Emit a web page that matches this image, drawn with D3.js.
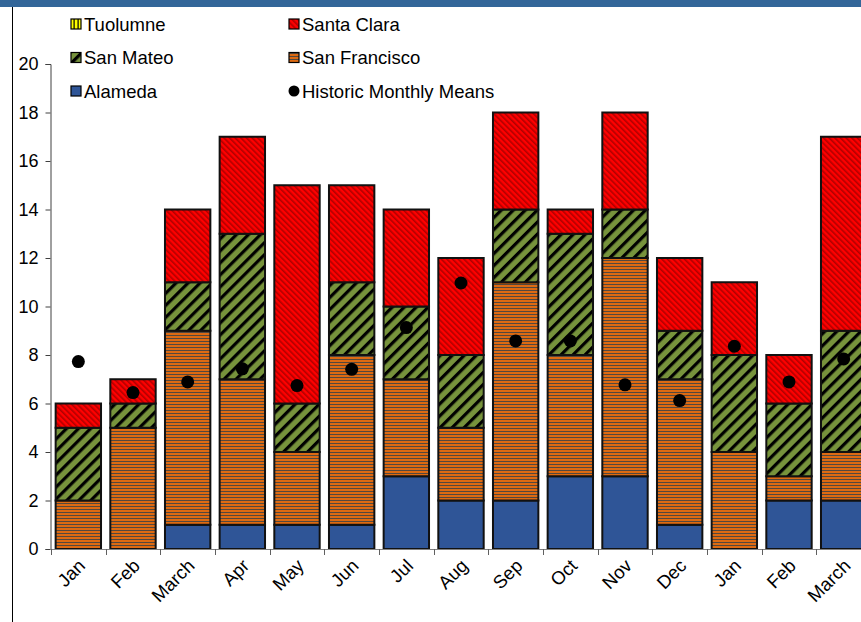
<!DOCTYPE html>
<html><head><meta charset="utf-8">
<script src="https://cdn.jsdelivr.net/npm/d3@7"></script>
<style>html,body{margin:0;padding:0;background:#fff;overflow:hidden}</style>
</head><body>
<svg id="c" width="861" height="622"></svg>
<script>
const categories = ["Jan","Feb","March","Apr","May","Jun","Jul","Aug","Sep","Oct","Nov","Dec","Jan","Feb","March"];
const alameda      = [0,0,1,1,1,1,3,2,2,3,3,1,0,2,2];
const sanFrancisco = [2,5,8,6,3,7,4,3,9,5,9,6,4,1,2];
const sanMateo     = [3,1,2,6,2,3,3,3,3,5,2,2,4,3,5];
const santaClara   = [1,1,3,4,9,4,4,4,4,1,4,3,3,2,8];
const tuolumne     = [0,0,0,0,0,0,0,0,0,0,0,0,0,0,0];
const historicMeans = [7.73,6.45,6.89,7.43,6.74,7.41,9.13,10.97,8.58,8.58,6.77,6.12,8.36,6.89,7.84];
const yTicks = [0,2,4,6,8,10,12,14,16,18,20];

const seriesNames = ["Alameda","San Francisco","San Mateo","Santa Clara","Tuolumne"];
const seriesData = [alameda, sanFrancisco, sanMateo, santaClara, tuolumne];
const fills = ["#2F5597","url(#pSF)","url(#pSM)","url(#pSC)","url(#pTU)"];

const svg = d3.select("#c");
const font = "'Liberation Sans', Arial, sans-serif";

// patterns
const defs = svg.append("defs");
let p = defs.append("pattern").attr("id","pSC").attr("patternUnits","userSpaceOnUse")
  .attr("width",4).attr("height",4).attr("patternTransform","rotate(-45)");
p.append("rect").attr("width",4).attr("height",4).attr("fill","#FF0000");
p.append("rect").attr("width",1.6).attr("height",4).attr("fill","#B00000");

p = defs.append("pattern").attr("id","pSM").attr("patternUnits","userSpaceOnUse")
  .attr("width",8.5).attr("height",8.5).attr("patternTransform","rotate(45)");
p.append("rect").attr("width",8.5).attr("height",8.5).attr("fill","#77933C");
p.append("rect").attr("width",3.2).attr("height",8.5).attr("fill","#000");

p = defs.append("pattern").attr("id","pSF").attr("patternUnits","userSpaceOnUse")
  .attr("width",4).attr("height",3);
p.append("rect").attr("width",4).attr("height",3).attr("fill","#DD6A12");
p.append("rect").attr("y",2).attr("width",4).attr("height",1.1).attr("fill","#54483E");

p = defs.append("pattern").attr("id","pTU").attr("patternUnits","userSpaceOnUse")
  .attr("width",4).attr("height",4);
p.append("rect").attr("width",4).attr("height",4).attr("fill","#FFFF00");
p.append("rect").attr("x",1.5).attr("width",1.2).attr("height",4).attr("fill","#000");

// frame
svg.append("rect").attr("x",0).attr("y",0).attr("width",861).attr("height",7).attr("fill","#336699");
svg.append("line").attr("x1",12.5).attr("x2",12.5).attr("y1",7).attr("y2",622).attr("stroke","#000").attr("stroke-width",1);

const x = d3.scaleBand().domain(d3.range(categories.length)).range([51, 871])
  .paddingInner(0.17).paddingOuter(0.085);
const y = d3.scaleLinear().domain([0,20]).range([549,64]);

// stacked data
const rows = categories.map((c,i)=>{const o={i}; seriesNames.forEach((s,k)=>o[s]=seriesData[k][i]); return o;});
const stack = d3.stack().keys(seriesNames)(rows);

const g = svg.append("g");
stack.forEach((layer,k)=>{
  g.selectAll(null).data(layer.filter(d=>d[1]-d[0]>0)).enter().append("rect")
    .attr("x",d=>x(d.data.i)).attr("width",x.bandwidth())
    .attr("y",d=>y(d[1])).attr("height",d=>y(d[0])-y(d[1]))
    .attr("fill",fills[k]).attr("stroke","#111").attr("stroke-width",2);
});

// means
g.selectAll("circle.m").data(historicMeans).enter().append("circle")
  .attr("cx",(d,i)=>x(i)+x.bandwidth()/2).attr("cy",d=>y(d)).attr("r",6.5).attr("fill","#000");

// y axis
const ya = svg.append("g").attr("transform","translate(50.5,0)")
  .call(d3.axisLeft(y).tickValues(yTicks).tickSize(5).tickPadding(7).tickFormat(d3.format("d")));
ya.select(".domain").attr("stroke","#404040");
ya.selectAll(".tick line").attr("stroke","#404040");
ya.selectAll("text").attr("font-family",font).attr("font-size",18).attr("fill","#000");

// x axis
svg.append("line").attr("x1",50).attr("x2",861).attr("y1",549.5).attr("y2",549.5).attr("stroke","#808080").attr("stroke-width",1.2);
const step = x.step();
const bounds = d3.range(categories.length+1).map(i=>x(i===categories.length?i-1:i) - x.paddingInner()*step/2 + (i===categories.length?step:0));
svg.selectAll("line.xt").data(bounds).enter().append("line")
  .attr("x1",d=>Math.round(d)+0.5).attr("x2",d=>Math.round(d)+0.5).attr("y1",549).attr("y2",555).attr("stroke","#606060");
svg.selectAll("text.xl").data(categories).enter().append("text")
  .attr("transform",(d,i)=>`translate(${x(i)+x.bandwidth()/2+8},567) rotate(-45)`)
  .attr("text-anchor","end").attr("font-family",font).attr("font-size",18.5).attr("fill","#000")
  .text(d=>d);

// legend
const legendItems = [
  {name:"Tuolumne", fill:fills[4], col:0, row:0},
  {name:"Santa Clara", fill:fills[3], col:1, row:0},
  {name:"San Mateo", fill:fills[2], col:0, row:1},
  {name:"San Francisco", fill:fills[1], col:1, row:1},
  {name:"Alameda", fill:fills[0], col:0, row:2},
  {name:"Historic Monthly Means", dot:true, col:1, row:2}
];
const lg = svg.append("g");
legendItems.forEach(it=>{
  const lx = it.col===0 ? 71 : 289, ly = 24 + it.row*33.5;
  if (it.dot) lg.append("circle").attr("cx",lx+5).attr("cy",ly).attr("r",5.5).attr("fill","#000");
  else lg.append("rect").attr("x",lx).attr("y",ly-5).attr("width",10).attr("height",10)
        .attr("fill",it.fill).attr("stroke","#000").attr("stroke-width",1.2);
  lg.append("text").attr("x",lx+13).attr("y",ly+6.5).attr("font-family",font).attr("font-size",18.5).attr("fill","#000").text(it.name);
});
</script>
</body></html>
